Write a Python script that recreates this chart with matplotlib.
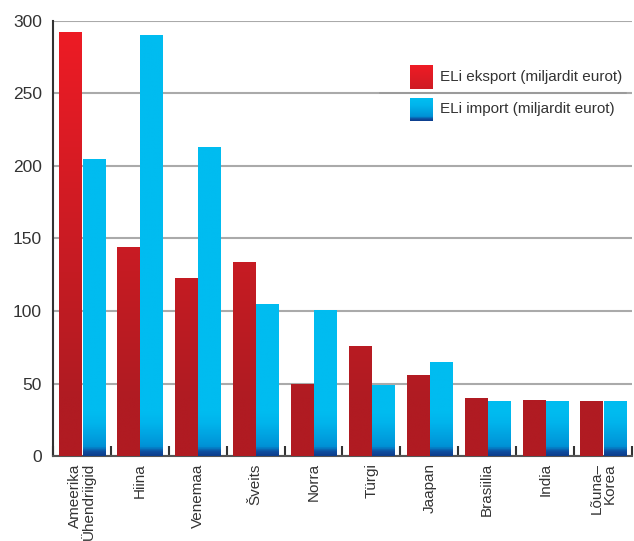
"""
ELi kaubavahetus peamiste partneritega: eksport ja import (miljardit eurot).
"""

import numpy as np
import matplotlib
matplotlib.use("Agg")
import matplotlib.pyplot as plt
from matplotlib.colors import LinearSegmentedColormap

countries = ["Ameerika\nÜhendriigid", "Hiina", "Venemaa", "Šveits", "Norra",
             "Türgi", "Jaapan", "Brasiilia", "India", "Lõuna–\nKorea"]
export_values = [292, 144, 123, 134, 50, 76, 56, 40, 39, 38]
import_values = [205, 290, 213, 105, 101, 49, 65, 38, 38, 38]
legend_labels = ["ELi eksport (miljardit eurot)", "ELi import (miljardit eurot)"]
y_ticks = [0, 50, 100, 150, 200, 250, 300]

YMAX = 300
TEXT = "#333333"

plt.rcParams['font.family'] = ['Liberation Sans Narrow', 'Liberation Sans', 'DejaVu Sans']

# gradients keyed to absolute value on the y axis (0..300)
red_cmap = LinearSegmentedColormap.from_list(
    "red", [(0.0, "#b01b22"), (40 / YMAX, "#b01b22"), (1.0, "#ef1c25")])
blue_cmap = LinearSegmentedColormap.from_list(
    "blue", [(0.0, "#0d3f8f"), (2.5 / YMAX, "#0f4fa0"), (6 / YMAX, "#0092d6"),
             (22 / YMAX, "#00b4ec"), (30 / YMAX, "#00bcf0"), (1.0, "#00bcf0")])
grad = np.linspace(0, 1, 1200).reshape(-1, 1)


def gradient_bars(ax, bars, cmap):
    for bar in bars:
        x0 = bar.get_x()
        x1 = x0 + bar.get_width()
        img = ax.imshow(grad, cmap=cmap, origin="lower", aspect="auto",
                        extent=(x0, x1, 0, YMAX), interpolation="bilinear",
                        zorder=3)
        img.set_clip_path(bar)


fig = plt.figure(figsize=(6.34, 5.41), dpi=100)
ax = fig.add_axes([0.0836, 0.1566, 0.9132, 0.8051])

x = np.arange(len(countries))
w = 0.38
red_bars = ax.bar(x - 0.2, export_values, w, facecolor="none", edgecolor="none", zorder=3)
blue_bars = ax.bar(x + 0.2, import_values, w, facecolor="none", edgecolor="none", zorder=3)
gradient_bars(ax, red_bars, red_cmap)
gradient_bars(ax, blue_bars, blue_cmap)

# grid and spines
ax.set_yticks(y_ticks)
ax.yaxis.grid(True, color="#aaaaaa", linewidth=1.5, zorder=0)
ax.set_axisbelow(True)
for side in ["top", "right"]:
    ax.spines[side].set_visible(False)
ax.spines["left"].set_color(TEXT)
ax.spines["left"].set_linewidth(1.5)
ax.spines["bottom"].set_color("#555555")
ax.spines["bottom"].set_linewidth(1.5)

ax.tick_params(axis="y", length=0, pad=8, labelsize=12.5, labelcolor=TEXT)
ax.set_xticks(x)
ax.set_xticklabels(countries, rotation=90, fontsize=11, color=TEXT,
                   va="top", ha="center", multialignment="right", linespacing=0.95)
ax.tick_params(axis="x", which="major", length=0, pad=5)
ax.set_xticks(np.arange(-0.5, len(countries)), minor=True)
ax.tick_params(axis="x", which="minor", direction="in", length=7, width=1.5,
               color=TEXT)

# legend drawn by hand: gradient squares, labels, separator line
sq_x0, sq_x1 = 0.6166, 0.656
rows = [(0.843, 0.898, red_cmap, (0.55, 1.0)),
        (0.770, 0.8226, blue_cmap, (0.0, 0.11))]
for (y0, y1, cmap, (g0, g1)), label in zip(rows, legend_labels):
    patch = np.linspace(g0, g1, 200).reshape(-1, 1)
    ax.imshow(patch, cmap=cmap, origin="lower", aspect="auto",
              extent=(sq_x0, sq_x1, y0, y1), transform=ax.transAxes,
              vmin=0, vmax=1, zorder=4)
    ax.text(0.668, (y0 + y1) / 2, label, transform=ax.transAxes,
            fontsize=11, color=TEXT, va="center", ha="left", zorder=4)
ax.plot([0.565, 0.99], [0.834, 0.834], transform=ax.transAxes,
        color="#999999", linewidth=1.2, zorder=4)

ax.set_xlim(-0.5, len(countries) - 0.5)
ax.set_ylim(0, YMAX)

fig.savefig("out.png", dpi=100)
